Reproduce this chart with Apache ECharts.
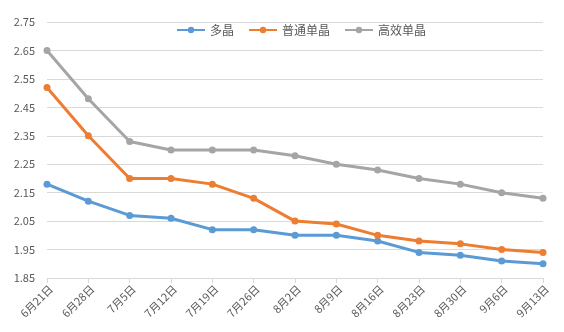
<!DOCTYPE html>
<html><head><meta charset="utf-8">
<script src="https://cdn.jsdelivr.net/npm/echarts@6/dist/echarts.min.js"></script>
<style>html,body{margin:0;padding:0;background:#fff}#c{width:564px;height:332px}</style>
</head><body><div id="c"></div>
<script>
const categories = ['6月21日','6月28日','7月5日','7月12日','7月19日','7月26日','8月2日','8月9日','8月16日','8月23日','8月30日','9月6日','9月13日'];
const seriesNames = ['多晶','普通单晶','高效单晶'];
const poly = [2.18,2.12,2.07,2.06,2.02,2.02,2.00,2.00,1.98,1.94,1.93,1.91,1.90];
const monoNormal = [2.52,2.35,2.20,2.20,2.18,2.13,2.05,2.04,2.00,1.98,1.97,1.95,1.94];
const monoHigh = [2.65,2.48,2.33,2.30,2.30,2.30,2.28,2.25,2.23,2.20,2.18,2.15,2.13];
const yMin = 1.85, yMax = 2.75, yStep = 0.1;

const colors = ['#5B9BD5','#ED7D31','#A5A5A5'];
const font = '"Microsoft YaHei","Noto Sans CJK SC",sans-serif';
const mk = (name, data, color) => ({
  name, type:'line', data, color,
  symbol:'circle', symbolSize:7,
  lineStyle:{width:3, color},
  itemStyle:{color},
  emphasis:{disabled:true}
});
const chart = echarts.init(document.getElementById('c'), null, {renderer:'canvas'});
chart.setOption({
  animation:false,
  backgroundColor:'#fff',
  textStyle:{fontFamily:font},
  legend:{
    top:19, left:171, itemWidth:28, itemHeight:8, itemGap:14,
    textStyle:{color:'#595959', fontSize:12, fontFamily:font},
    data:seriesNames
  },
  grid:{left:47, right:21, top:22, bottom:54, containLabel:false},
  xAxis:{
    type:'category', data:categories, boundaryGap:false,
    axisLine:{lineStyle:{color:'#D9D9D9'}},
    axisTick:{show:true, lineStyle:{color:'#D9D9D9'}, length:5},
    axisLabel:{rotate:45, color:'#595959', fontSize:11, margin:5, verticalAlign:'top', interval:0, fontFamily:font},
    splitLine:{show:false}
  },
  yAxis:{
    type:'value', min:yMin, max:yMax, interval:yStep,
    axisLine:{show:false}, axisTick:{show:false},
    axisLabel:{color:'#595959', fontSize:11, margin:12, formatter:v=>v.toFixed(2), fontFamily:font},
    splitLine:{lineStyle:{color:'#D9D9D9'}}
  },
  series:[mk(seriesNames[0], poly, colors[0]), mk(seriesNames[1], monoNormal, colors[1]), mk(seriesNames[2], monoHigh, colors[2])]
});
</script></body></html>
